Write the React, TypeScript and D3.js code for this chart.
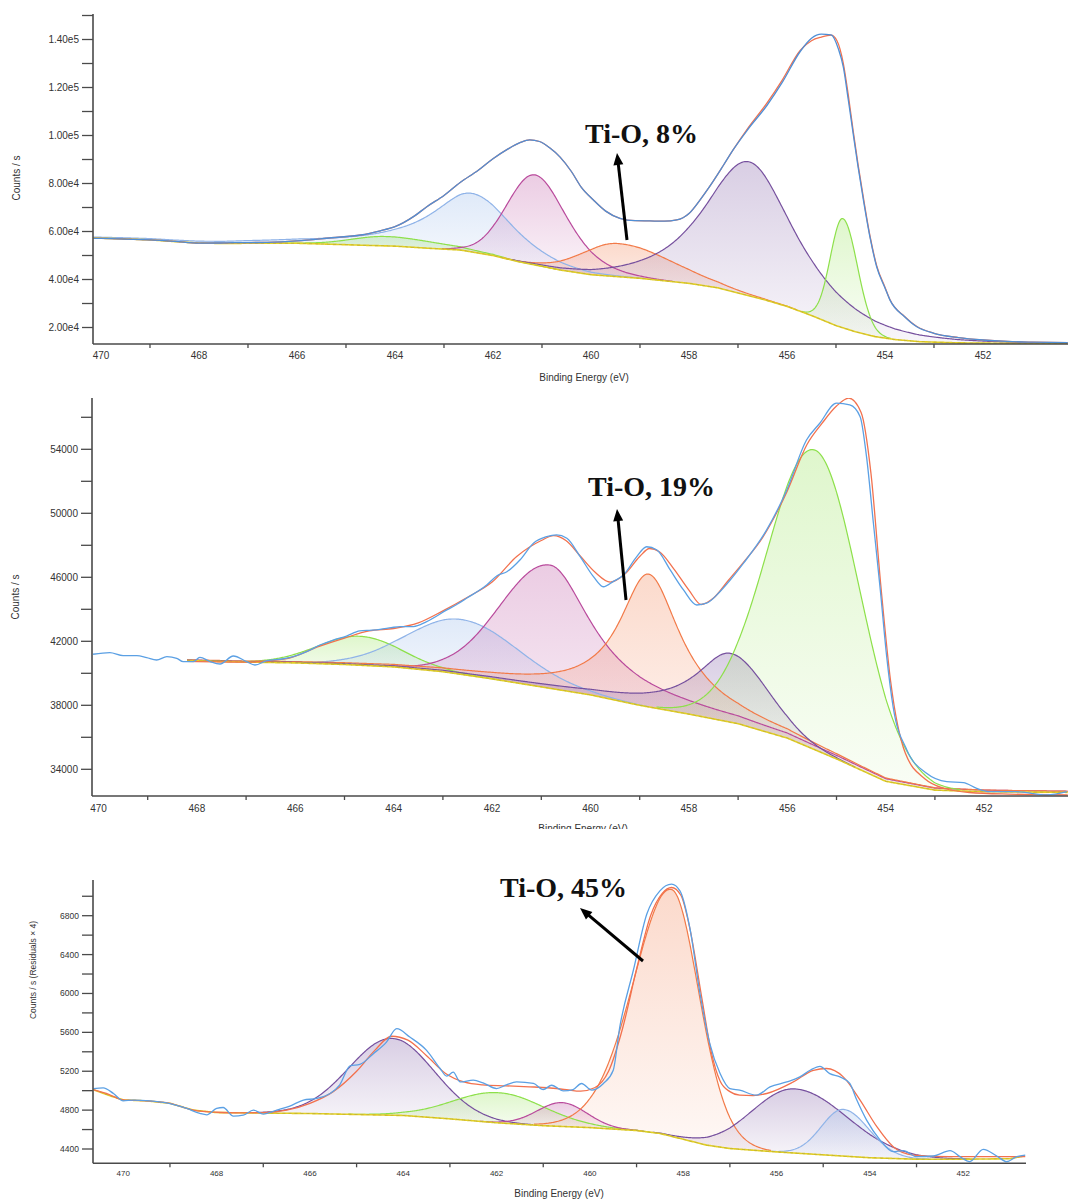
import React, { useEffect, useRef } from "react";
import * as d3 from "d3";

type Pt = [number, number];

// shared x axis ticks (binding energy, eV)
const xTickLabels = ["470", "468", "466", "464", "462", "460", "458", "456", "454", "452"];
const xMinorTicks = [469, 467, 465, 463, 461, 459, 457, 455, 453];

// ---------------- panel 1 ----------------
const p1YTicks = [20000, 40000, 60000, 80000, 100000, 120000, 140000];
const p1YLabels = ["2.00e4", "4.00e4", "6.00e4", "8.00e4", "1.00e5", "1.20e5", "1.40e5"];
const p1YMinor = [30000, 50000, 70000, 90000, 110000, 130000, 150000];

const p1Raw: Pt[] = [
  [470.15, 57170], [469.8, 57000], [469.34, 56750], [469, 56500], [468.5, 55900], [468, 55150],
  [467.6, 55200], [467.3, 55330], [466.6, 55500], [466, 56100], [465.3, 57400], [464.7, 58540],
  [464.3, 60300], [464, 62000], [463.6, 66500], [463.35, 70330], [463, 75000], [462.67, 80400],
  [462.3, 85500], [462, 90300], [461.7, 94300], [461.45, 97000], [461.25, 98200], [461.05, 97500],
  [460.85, 95000], [460.63, 91000], [460.4, 85000], [460.2, 78500], [459.95, 73100], [459.7, 68500],
  [459.41, 65500], [459.1, 64500], [458.8, 64400], [458.5, 64300], [458.25, 64800], [458, 67500],
  [457.78, 73000], [457.57, 79000], [457.3, 87500], [457.1, 94000], [456.8, 102500], [456.41, 112500],
  [456.1, 122000], [455.73, 135000], [455.5, 140500], [455.3, 142200], [455.1, 141900], [454.95, 136000],
  [454.85, 128500], [454.75, 115000], [454.65, 100900], [454.55, 87000], [454.44, 73100], [454.3, 57000],
  [454.17, 45300], [454, 36500], [453.9, 31500], [453.6, 24500], [453.35, 20300], [453, 17600],
  [452.5, 15800], [452, 14800], [451.5, 14200], [451, 13900], [450.27, 13670],
];
const p1Envelope: Pt[] = [
  [470.15, 57170], [469.8, 57000], [469.34, 56750], [469, 56500], [468.5, 55900], [468, 55150],
  [467.6, 55200], [467.3, 55330], [466.6, 55500], [466, 56100], [465.3, 57400], [464.7, 58540],
  [464.3, 60300], [464, 62000], [463.6, 66500], [463.35, 70330], [463, 75000], [462.67, 80400],
  [462.3, 85500], [462, 90300], [461.7, 94300], [461.45, 97000], [461.25, 98200], [461.05, 97500],
  [460.85, 95000], [460.63, 91000], [460.4, 85000], [460.2, 78500], [459.95, 73100], [459.7, 68500],
  [459.41, 65500], [459.1, 64500], [458.8, 64400], [458.5, 64300], [458.25, 64800], [458, 67500],
  [457.78, 73000], [457.57, 79000], [457.3, 87500], [457.1, 94000], [456.8, 103000], [456.41, 113500],
  [456.1, 123000], [455.73, 135500], [455.5, 139500], [455.3, 141000], [455.1, 141800], [454.98, 139500],
  [454.85, 130000], [454.75, 117000], [454.65, 102000], [454.55, 88000], [454.44, 74000], [454.3, 57500],
  [454.17, 45800], [454, 36800], [453.9, 31700], [453.6, 24600], [453.35, 20400], [453, 17600],
  [452.5, 15800], [452, 14800], [451.5, 14200], [451, 13900], [450.27, 13670],
];
const p1Background: Pt[] = [
  [470.16, 57300], [469.5, 56900], [469, 56500], [468.5, 55800], [468, 55200], [467.5, 55000],
  [467, 55100], [466, 55100], [465, 54500], [464.7, 54300], [464, 53900], [463.3, 53000],
  [462.67, 52290], [462, 50000], [461.5, 47500], [461, 45500], [460.63, 43960], [460, 42000],
  [459, 40500], [458, 38400], [457.4, 36500], [457, 34400], [456.5, 31800], [456, 28800],
  [455.5, 25000], [455, 20800], [454.6, 18200], [454.2, 16200], [453.8, 15000], [453.3, 14100],
  [452.5, 13600], [451.5, 13400], [450.27, 13300],
];
const p1Kind = ["green", "blue", "magenta", "orange", "purple", "green"];
const p1Centre = [464.2, 462.43, 461.14, 459.46, 456.77, 454.86];
const p1Height = [3900, 24400, 37500, 13800, 55800, 45500];
const p1FwhmHi = [1.6, 2.0, 1.35, 1.7, 2.2, 0.6];
const p1FwhmLo = [2.5, 2.0, 1.6, 2.6, 2.2, 0.7];
const p1MixHi = [0, 1, 0, 0, 0.8, 0];
const p1MixLo = [0, 0.6, 0.6, 0, 0.9, 0];

// ---------------- panel 2 ----------------
const p2YTicks = [34000, 38000, 42000, 46000, 50000, 54000];
const p2YLabels = ["34000", "38000", "42000", "46000", "50000", "54000"];
const p2YMinor = [36000, 40000, 44000, 48000, 52000, 56000];

const p2Raw: Pt[] = [
  [470.11, 41190], [469.77, 41290], [469.5, 41100], [469.22, 41100], [469.02, 40975], [468.82, 40830],
  [468.61, 41040], [468.41, 40940], [468.28, 40730], [468.07, 40730], [467.94, 41000], [467.73, 40730],
  [467.53, 40580], [467.26, 41080], [466.99, 40730], [466.82, 40520], [466.58, 40790], [466.24, 40910],
  [466.04, 41040], [465.77, 41350], [465.5, 41770], [465.23, 42080], [464.96, 42330], [464.69, 42650],
  [464.45, 42700], [464.28, 42750], [464.05, 42850], [463.87, 42920], [463.6, 42920], [463.33, 43230],
  [462.92, 43960], [462.72, 44300], [462.52, 44690], [462.11, 45520], [461.9, 46100], [461.7, 46350],
  [461.43, 47100], [461.16, 48130], [460.89, 48540], [460.69, 48650], [460.48, 48440], [460.21, 47290],
  [459.94, 46040], [459.74, 45410], [459.54, 45730], [459.33, 46140], [459.06, 47290], [458.86, 47910],
  [458.65, 47710], [458.38, 46460], [458.11, 45210], [457.84, 44270], [457.64, 44380], [457.37, 45100],
  [456.89, 46880], [456.42, 48960], [456.01, 51460], [455.61, 54580], [455.34, 55630], [455, 56880],
  [454.73, 56770], [454.52, 56040], [454.39, 53540], [454.25, 49375], [454.11, 45210], [453.98, 41040],
  [453.85, 37920], [453.57, 35210], [453.17, 33750], [452.76, 33230], [452.42, 33170], [452.15, 32810],
  [451.88, 32600], [451.34, 32600], [450.73, 32400], [450.32, 32600],
];
const p2Envelope: Pt[] = [
  [468.2, 40750], [467, 40700], [466.2, 40900], [465.5, 41700], [465, 42200], [464.5, 42650],
  [464, 42800], [463.5, 43150], [463, 43900], [462.5, 44750], [462, 45700], [461.5, 47300],
  [461, 48300], [460.75, 48600], [460.5, 48300], [460.2, 47300], [459.9, 46300], [459.6, 45700],
  [459.3, 46200], [459, 47300], [458.8, 47800], [458.6, 47600], [458.3, 46500], [458, 45200],
  [457.75, 44300], [457.5, 44700], [457.2, 45800], [456.9, 46900], [456.5, 48500], [456, 51400],
  [455.6, 54300], [455.3, 55600], [455, 56700], [454.75, 57200], [454.5, 56300], [454.3, 52500],
  [454.1, 45500], [453.9, 39500], [453.6, 35000], [453.2, 33400], [452.8, 32800], [452.3, 32550],
  [451.5, 32450], [450.3, 32400],
];
const p2Background: Pt[] = [
  [468.2, 40800], [467, 40700], [466, 40650], [465, 40550], [464, 40400], [463, 40100],
  [462, 39650], [461, 39150], [460, 38650], [459, 38000], [458, 37450], [457, 36850],
  [456, 35950], [455, 34650], [454, 33250], [453, 32700], [452, 32600], [450.3, 32560],
];
const p2Kind = ["green", "blue", "magenta", "orange", "purple", "green"];
const p2Centre = [464.69, 462.62, 460.82, 458.82, 457.16, 455.43];
const p2Height = [1810, 3430, 7700, 8300, 4300, 18730];
const p2FwhmHi = [2.0, 2.6, 2.4, 1.45, 1.7, 2.3];
const p2FwhmLo = [2.0, 2.7, 2.0, 1.55, 1.8, 2.1];
const p2MixHi = [0, 0, 0, 1, 1, 0];
const p2MixLo = [0, 0, 1, 1, 0, 0];

// ---------------- panel 3 ----------------
const p3YTicks = [4400, 4800, 5200, 5600, 6000, 6400, 6800];
const p3YLabels = ["4400", "4800", "5200", "5600", "6000", "6400", "6800"];
const p3YMinor = [4600, 5000, 5400, 5800, 6200, 6600, 7000];

const p3Raw: Pt[] = [
  [470.64, 5022], [470.43, 5029], [470.21, 4971], [470, 4896], [469.79, 4903], [469.43, 4896],
  [469.07, 4875], [468.64, 4817], [468.36, 4766], [468.21, 4752], [468, 4817], [467.86, 4827],
  [467.64, 4738], [467.43, 4748], [467.21, 4800], [467, 4759], [466.71, 4800], [466.43, 4841],
  [466.14, 4903], [465.86, 4920], [465.57, 4971], [465.36, 5060], [465.14, 5255], [464.93, 5270],
  [464.64, 5381], [464.36, 5500], [464.14, 5638], [463.86, 5552], [463.5, 5415], [463.21, 5228],
  [463.07, 5150], [462.93, 5190], [462.78, 5090], [462.5, 5108], [462.29, 5080], [462, 5022],
  [461.79, 5060], [461.57, 5090], [461.21, 5074], [461, 5012], [460.82, 5056], [460.57, 4998],
  [460.36, 5012], [460.18, 5074], [459.96, 5005], [459.71, 5074], [459.5, 5210], [459.36, 5654],
  [459.07, 6236], [458.78, 6817], [458.5, 7056], [458.25, 7125], [458.07, 7056], [457.86, 6680],
  [457.64, 5997], [457.43, 5484], [457.21, 5176], [457, 5022], [456.79, 5005], [456.43, 4954],
  [456.14, 5039], [455.78, 5090], [455.5, 5142], [455.28, 5210], [455.07, 5251], [454.86, 5176],
  [454.64, 5142], [454.43, 5074], [454.28, 4903], [454.07, 4697], [453.78, 4492], [453.5, 4372],
  [453.28, 4383], [453, 4321], [452.64, 4328], [452.28, 4383], [452.07, 4321], [451.86, 4270],
  [451.57, 4397], [451.28, 4328], [451.07, 4270], [450.85, 4321], [450.67, 4338],
];
const p3Envelope: Pt[] = [
  [470.64, 5010], [470.3, 4960], [470, 4905], [469.5, 4895], [469, 4870], [468.5, 4800],
  [468, 4778], [467.5, 4772], [467, 4775], [466.5, 4800], [466, 4870], [465.5, 4990],
  [465, 5200], [464.6, 5420], [464.25, 5560], [463.9, 5520], [463.5, 5360], [463.1, 5180],
  [462.7, 5090], [462.3, 5060], [461.8, 5050], [461.3, 5040], [460.9, 5030], [460.5, 5010],
  [460.2, 4995], [459.9, 5030], [459.6, 5200], [459.3, 5640], [459, 6250], [458.7, 6800],
  [458.45, 7030], [458.25, 7090], [458.05, 7010], [457.85, 6650], [457.6, 5950], [457.4, 5400],
  [457.21, 5100], [457, 4990], [456.79, 4954], [456.5, 4950], [456.21, 4971], [455.64, 5090],
  [455.21, 5210], [454.93, 5228], [454.57, 5142], [454.21, 4903], [453.85, 4629], [453.5, 4424],
  [453.07, 4338], [452.28, 4321], [450.67, 4321],
];
const p3Background: Pt[] = [
  [470.64, 5010], [470.3, 4950], [470, 4905], [469.5, 4895], [469, 4870], [468.5, 4800],
  [468, 4775], [467, 4770], [466, 4765], [465, 4755], [464, 4745], [463, 4710],
  [462, 4670], [461, 4640], [460, 4620], [459, 4590], [458.5, 4560], [458, 4500],
  [457.5, 4440], [457, 4405], [456, 4370], [455, 4340], [454, 4310], [453, 4295],
  [452, 4295], [451, 4300], [450.67, 4330],
];
const p3Kind = ["purple", "green", "magenta", "orange", "purple", "blue"];
const p3Centre = [464.25, 461.95, 460.6, 458.25, 455.61, 454.57];
const p3Height = [790, 310, 245, 2540, 660, 480];
const p3FwhmHi = [2.15, 2.3, 1.25, 2.0, 2.17, 1.1];
const p3FwhmLo = [2.15, 2.3, 1.25, 1.45, 2.66, 1.3];
const p3MixHi = [0, 0, 0, 0.3, 0, 0];
const p3MixLo = [0, 0, 0, 0.3, 0, 0];

// ---------------- styles / layout ----------------
const colour: Record<string, string> = {
  green: "#8de04a",
  blue: "#8fb3e8",
  magenta: "#b94a9c",
  orange: "#f27a48",
  purple: "#76509e",
};
const rawColour = "#5ba0e4";
const envColour = "#f2714e";
const bgColour = "#e2cf24";
const axisColour = "#4a4a4a";
const sans = "'Liberation Sans', Arial, sans-serif";

const panels = [
  {
    raw: p1Raw, env: p1Envelope, bg: p1Background,
    kind: p1Kind, centre: p1Centre, height: p1Height,
    fwhmHi: p1FwhmHi, fwhmLo: p1FwhmLo, mixHi: p1MixHi, mixLo: p1MixLo,
    yTicks: p1YTicks, yLabels: p1YLabels, yMinor: p1YMinor,
    yTitle: "Counts / s", note: "Ti-O, 8%",
    xDom: [470.163, 450.265], xPx: [93, 1068], yDom: [20000, 140000], yPx: [327.5, 39.5],
    top: 14, bottom: 344, right: 1068, font: 10, xFont: 10, xLabelDy: 15,
    yTitleX: 16, yTitleY: 178, xTitleX: 584, xTitleY: 381,
    noteX: 585, noteY: 143, arrow: [[627, 240], [617, 153]],
    raw1: "#4f8fd6",
  },
  {
    raw: p2Raw, env: p2Envelope, bg: p2Background,
    kind: p2Kind, centre: p2Centre, height: p2Height,
    fwhmHi: p2FwhmHi, fwhmLo: p2FwhmLo, mixHi: p2MixHi, mixLo: p2MixLo,
    yTicks: p2YTicks, yLabels: p2YLabels, yMinor: p2YMinor,
    yTitle: "Counts / s", note: "Ti-O, 19%",
    xDom: [470.132, 450.295], xPx: [92, 1068], yDom: [34000, 54000], yPx: [769.3, 449.3],
    top: 398, bottom: 796, right: 1068, font: 10, xFont: 10, xLabelDy: 16,
    yTitleX: 15, yTitleY: 597, xTitleX: 583, xTitleY: 832,
    noteX: 588, noteY: 496, arrow: [[626, 600], [617, 509]],
    raw1: rawColour,
  },
  {
    raw: p3Raw, env: p3Envelope, bg: p3Background,
    kind: p3Kind, centre: p3Centre, height: p3Height,
    fwhmHi: p3FwhmHi, fwhmLo: p3FwhmLo, mixHi: p3MixHi, mixLo: p3MixLo,
    yTicks: p3YTicks, yLabels: p3YLabels, yMinor: p3YMinor,
    yTitle: "Counts / s  (Residuals \u00d7 4)", note: "Ti-O, 45%",
    xDom: [470.649, 450.654], xPx: [93, 1026], yDom: [4400, 6800], yPx: [1149, 915.7],
    top: 880, bottom: 1163.3, right: 1026, font: 8.5, xFont: 8, xLabelDy: 13,
    yTitleX: 33, yTitleY: 970, xTitleX: 559, xTitleY: 1197,
    noteX: 500, noteY: 897, arrow: [[643, 961], [580, 908]],
    raw1: rawColour,
  },
];

// Gaussian/Lorentzian product line shape, separate widths either side of the centre
function peak(e: number, c: number, h: number, wHi: number, wLo: number, mHi: number, mLo: number) {
  const hi = e >= c;
  const w = hi ? wHi : wLo;
  const m = hi ? mHi : mLo;
  const r = 4 * ((e - c) / w) ** 2;
  return (h * Math.exp(-Math.LN2 * (1 - m) * r)) / (1 + m * r);
}

export default function App() {
  const ref = useRef<SVGSVGElement>(null);

  useEffect(() => {
    const svg = d3.select(ref.current);
    svg.selectAll("*").remove();
    const defs = svg.append("defs");

    Object.entries(colour).forEach(([k, c]) => {
      const g = defs.append("linearGradient").attr("id", `grad-${k}`)
        .attr("x1", 0).attr("y1", 0).attr("x2", 0).attr("y2", 1);
      g.append("stop").attr("offset", "0%").attr("stop-color", c).attr("stop-opacity", 0.28);
      g.append("stop").attr("offset", "100%").attr("stop-color", c).attr("stop-opacity", 0.05);
    });

    panels.forEach((p, pi) => {
      const x = d3.scaleLinear().domain(p.xDom).range(p.xPx);
      const y = d3.scaleLinear().domain(p.yDom).range(p.yPx);
      const g = svg.append("g");

      const clipId = `plot-clip-${pi}`;
      defs.append("clipPath").attr("id", clipId).append("rect")
        .attr("x", p.xPx[0]).attr("y", p.top)
        .attr("width", p.right - p.xPx[0]).attr("height", p.bottom - p.top);
      const plot = g.append("g").attr("clip-path", `url(#${clipId})`);

      const bgE = p.bg.map((d) => d[0]);
      const bgAt = d3.scaleLinear().domain(bgE).range(p.bg.map((d) => d[1])).clamp(true);
      const grid = d3.range(bgE[0], bgE[bgE.length - 1] - 1e-9, -0.02);

      const comps = p.centre.map((c, i) => {
        const h = p.height[i];
        const pts = grid
          .map((e) => {
            const s = peak(e, c, h, p.fwhmHi[i], p.fwhmLo[i], p.mixHi[i], p.mixLo[i]);
            return [e, bgAt(e), bgAt(e) + s, s];
          })
          .filter((d) => d[3] > h * 0.004);
        return { kind: p.kind[i], pts };
      });

      const area = d3.area<number[]>().x((d) => x(d[0])).y0((d) => y(d[1])).y1((d) => y(d[2]));
      const cline = d3.line<number[]>().x((d) => x(d[0])).y((d) => y(d[2]));

      comps.forEach((cp) => {
        plot.append("path").datum(cp.pts).attr("d", area).attr("fill", `url(#grad-${cp.kind})`);
      });
      comps.forEach((cp) => {
        plot.append("path").datum(cp.pts).attr("d", cline)
          .attr("fill", "none").attr("stroke", colour[cp.kind]).attr("stroke-width", 1.2);
      });

      const bgLine = d3.line<number>().x((e) => x(e)).y((e) => y(bgAt(e)));
      plot.append("path").datum(grid).attr("d", bgLine)
        .attr("fill", "none").attr("stroke", bgColour).attr("stroke-width", 1.6);
      plot.append("path").datum(grid).attr("d", bgLine)
        .attr("fill", "none").attr("stroke", "#8a7d55").attr("stroke-width", 0.5)
        .attr("stroke-dasharray", "3,3").attr("opacity", 0.6);

      const dline = d3.line<Pt>().x((d) => x(d[0])).y((d) => y(d[1])).curve(d3.curveMonotoneX);
      plot.append("path").datum(p.env).attr("d", dline)
        .attr("fill", "none").attr("stroke", envColour).attr("stroke-width", 1.3);
      plot.append("path").datum(p.raw).attr("d", dline)
        .attr("fill", "none").attr("stroke", p.raw1).attr("stroke-width", 1.3);

      // axes
      const ax = g.append("g").attr("stroke", axisColour);
      ax.append("line").attr("x1", p.xPx[0]).attr("x2", p.xPx[0]).attr("y1", p.top).attr("y2", p.bottom)
        .attr("stroke-width", 1.6);
      ax.append("line").attr("x1", p.xPx[0]).attr("x2", p.right).attr("y1", p.bottom).attr("y2", p.bottom)
        .attr("stroke-width", 1.6);
      [...p.yTicks, ...p.yMinor].forEach((v) => {
        ax.append("line").attr("x1", p.xPx[0] - 11).attr("x2", p.xPx[0])
          .attr("y1", y(v)).attr("y2", y(v)).attr("stroke-width", 1.3);
      });
      xMinorTicks.forEach((e) => {
        ax.append("line").attr("x1", x(e)).attr("x2", x(e))
          .attr("y1", p.bottom).attr("y2", p.bottom + 4).attr("stroke-width", 1.3);
      });

      const lab = g.append("g").attr("font-family", sans).attr("fill", "#333");
      p.yTicks.forEach((v, i) => {
        lab.append("text").attr("x", p.xPx[0] - 14).attr("y", y(v)).attr("dy", "0.35em")
          .attr("text-anchor", "end").attr("font-size", p.font).text(p.yLabels[i]);
      });
      xTickLabels.forEach((t) => {
        lab.append("text").attr("x", x(+t)).attr("y", p.bottom + p.xLabelDy)
          .attr("text-anchor", "middle").attr("font-size", p.xFont).text(t);
      });
      lab.append("text")
        .attr("transform", `translate(${p.yTitleX},${p.yTitleY}) rotate(-90)`)
        .attr("text-anchor", "middle").attr("dy", "0.35em").attr("font-size", pi === 2 ? 8.5 : 10)
        .text(p.yTitle);

      const xt = lab.append("text").attr("x", p.xTitleX).attr("y", p.xTitleY)
        .attr("text-anchor", "middle").attr("font-size", 10).text("Binding Energy (eV)");
      if (pi === 1) {
        defs.append("clipPath").attr("id", "title-clip-1").append("rect")
          .attr("x", 0).attr("y", 0).attr("width", 1068).attr("height", 829);
        xt.attr("clip-path", "url(#title-clip-1)");
      }

      // annotation
      g.append("text").attr("x", p.noteX).attr("y", p.noteY)
        .attr("font-family", "'Liberation Serif', 'Times New Roman', serif")
        .attr("font-weight", "bold").attr("font-size", 28).attr("fill", "#111").text(p.note);
      const [[ax0, ay0], [ax1, ay1]] = p.arrow;
      const len = Math.hypot(ax1 - ax0, ay1 - ay0);
      const ux = (ax1 - ax0) / len;
      const uy = (ay1 - ay0) / len;
      const head = 12;
      const half = 5;
      g.append("line").attr("x1", ax0).attr("y1", ay0)
        .attr("x2", ax1 - ux * (head - 2)).attr("y2", ay1 - uy * (head - 2))
        .attr("stroke", "#000").attr("stroke-width", 3);
      const bx = ax1 - ux * head;
      const by = ay1 - uy * head;
      g.append("polygon")
        .attr("points", `${ax1},${ay1} ${bx - uy * half},${by + ux * half} ${bx + uy * half},${by - ux * half}`)
        .attr("fill", "#000");
    });
  }, []);

  return (
    <svg
      ref={ref}
      width={1068}
      height={1202}
      style={{ position: "absolute", left: 0, top: 0, background: "#fff" }}
    />
  );
}
